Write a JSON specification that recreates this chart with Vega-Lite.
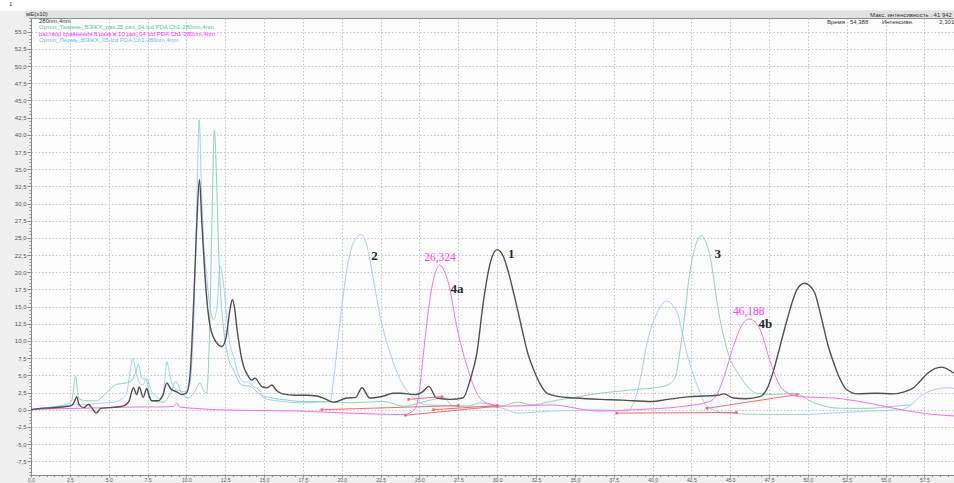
{
  "$schema": "https://vega.github.io/schema/vega-lite/v6.json",
  "width": 923,
  "height": 457,
  "autosize": {"type": "none"},
  "padding": {"left": 31, "top": 18, "right": 0, "bottom": 8},
  "background": "#efefef",
  "config": {
    "font": "Liberation Sans",
    "view": {"stroke": "#8c8c8c", "fill": "#fcfcfc"},
    "locale": {"number": {"decimal": ",", "thousands": " ", "grouping": [3], "currency": ["", ""], "minus": "-"}}
  },
  "datasets": {
    "traces": [
      {"s":"B","t":0,"v":0},{"s":"B","t":1.0,"v":0.3},{"s":"B","t":2.0,"v":0.5},{"s":"B","t":2.9,"v":0.8},{"s":"B","t":3.5,"v":0.7},{"s":"B","t":4.2,"v":0.9},{"s":"B","t":5.3,"v":1.1},{"s":"B","t":5.8,"v":1.5},{"s":"B","t":6.16,"v":2.5},{"s":"B","t":6.37,"v":5.4},{"s":"B","t":6.55,"v":7.5},{"s":"B","t":6.76,"v":5.4},{"s":"B","t":7.0,"v":3.9},{"s":"B","t":7.2,"v":3.6},{"s":"B","t":7.45,"v":4.6},{"s":"B","t":7.77,"v":2.6},{"s":"B","t":8.41,"v":1.6},{"s":"B","t":8.6,"v":4.0},{"s":"B","t":8.74,"v":7.0},{"s":"B","t":8.9,"v":5.5},{"s":"B","t":9.05,"v":3.9},{"s":"B","t":9.38,"v":2.9},{"s":"B","t":10.0,"v":2.6},{"s":"B","t":10.24,"v":3.9},{"s":"B","t":10.4,"v":9.0},{"s":"B","t":10.56,"v":19.4},{"s":"B","t":10.7,"v":33.0},{"s":"B","t":10.82,"v":42.2},{"s":"B","t":10.98,"v":31.5},{"s":"B","t":11.15,"v":23.0},{"s":"B","t":11.3,"v":19.4},{"s":"B","t":11.55,"v":14.6},{"s":"B","t":11.74,"v":13.1},{"s":"B","t":11.95,"v":14.6},{"s":"B","t":12.17,"v":20.9},{"s":"B","t":12.38,"v":18.4},{"s":"B","t":12.59,"v":13.6},{"s":"B","t":12.8,"v":9.5},{"s":"B","t":13.02,"v":7.8},{"s":"B","t":13.35,"v":5.1},{"s":"B","t":13.67,"v":4.1},{"s":"B","t":14.0,"v":4.0},{"s":"B","t":14.3,"v":3.4},{"s":"B","t":14.75,"v":2.7},{"s":"B","t":14.95,"v":1.7},{"s":"B","t":16.2,"v":1.2},{"s":"B","t":17.3,"v":1.0},{"s":"B","t":18.5,"v":1.1},{"s":"B","t":19.25,"v":1.2},{"s":"B","t":19.47,"v":4.4},{"s":"B","t":19.9,"v":13.1},{"s":"B","t":20.33,"v":20.4},{"s":"B","t":20.75,"v":24.3},{"s":"B","t":21.25,"v":25.5},{"s":"B","t":21.6,"v":24.0},{"s":"B","t":22.04,"v":18.9},{"s":"B","t":22.47,"v":13.6},{"s":"B","t":23.1,"v":8.3},{"s":"B","t":23.76,"v":4.4},{"s":"B","t":24.4,"v":2.2},{"s":"B","t":25.5,"v":0.7},{"s":"B","t":27.0,"v":0.6},{"s":"B","t":28.5,"v":0.5},{"s":"B","t":30.2,"v":0.3},{"s":"B","t":31.3,"v":-0.5},{"s":"B","t":33.4,"v":-0.2},{"s":"B","t":35.0,"v":-0.1},{"s":"B","t":36.6,"v":0},{"s":"B","t":38.4,"v":-0.2},{"s":"B","t":38.7,"v":0.6},{"s":"B","t":39.0,"v":2.4},{"s":"B","t":39.3,"v":5.5},{"s":"B","t":39.6,"v":9.2},{"s":"B","t":40.3,"v":14.1},{"s":"B","t":40.9,"v":15.8},{"s":"B","t":41.6,"v":14.1},{"s":"B","t":41.9,"v":11.3},{"s":"B","t":42.2,"v":8.3},{"s":"B","t":42.55,"v":5.6},{"s":"B","t":42.9,"v":3.4},{"s":"B","t":43.5,"v":0.5},{"s":"B","t":44.8,"v":-0.5},{"s":"B","t":47.4,"v":-0.7},{"s":"B","t":49.5,"v":-0.7},{"s":"B","t":51.5,"v":-0.5},{"s":"B","t":53.8,"v":-0.2},{"s":"B","t":56.0,"v":0},{"s":"B","t":56.6,"v":0.6},{"s":"B","t":57.2,"v":1.9},{"s":"B","t":58.1,"v":2.9},{"s":"B","t":59.0,"v":3.2},{"s":"B","t":59.4,"v":3.1},

      {"s":"T","t":0,"v":0},{"s":"T","t":1.0,"v":0.3},{"s":"T","t":2.1,"v":0.7},{"s":"T","t":2.6,"v":1.2},{"s":"T","t":2.88,"v":4.9},{"s":"T","t":3.0,"v":2.5},{"s":"T","t":3.15,"v":1.5},{"s":"T","t":3.6,"v":1.3},{"s":"T","t":4.2,"v":1.3},{"s":"T","t":4.87,"v":2.5},{"s":"T","t":5.5,"v":3.7},{"s":"T","t":6.16,"v":3.9},{"s":"T","t":6.5,"v":4.3},{"s":"T","t":6.75,"v":5.5},{"s":"T","t":6.91,"v":6.6},{"s":"T","t":7.12,"v":4.7},{"s":"T","t":7.45,"v":4.2},{"s":"T","t":7.6,"v":2.5},{"s":"T","t":7.77,"v":1.3},{"s":"T","t":8.5,"v":1.1},{"s":"T","t":9.0,"v":2.5},{"s":"T","t":9.31,"v":4.1},{"s":"T","t":9.7,"v":2.4},{"s":"T","t":10.12,"v":1.7},{"s":"T","t":10.5,"v":2.5},{"s":"T","t":10.88,"v":3.9},{"s":"T","t":11.1,"v":2.8},{"s":"T","t":11.3,"v":2.4},{"s":"T","t":11.5,"v":12.0},{"s":"T","t":11.65,"v":28.0},{"s":"T","t":11.8,"v":40.7},{"s":"T","t":11.95,"v":33.0},{"s":"T","t":12.06,"v":24.3},{"s":"T","t":12.2,"v":17.0},{"s":"T","t":12.38,"v":12.1},{"s":"T","t":12.7,"v":7.5},{"s":"T","t":13.03,"v":5.8},{"s":"T","t":13.57,"v":3.6},{"s":"T","t":14.1,"v":3.4},{"s":"T","t":14.75,"v":2.2},{"s":"T","t":15.5,"v":1.7},{"s":"T","t":16.5,"v":1.4},{"s":"T","t":17.3,"v":1.2},{"s":"T","t":19.0,"v":1.2},{"s":"T","t":20.5,"v":1.0},{"s":"T","t":22.7,"v":1.2},{"s":"T","t":24.0,"v":0.5},{"s":"T","t":25.0,"v":1.0},{"s":"T","t":26.55,"v":1.7},{"s":"T","t":27.2,"v":0.5},{"s":"T","t":28.1,"v":0.5},{"s":"T","t":28.9,"v":1.0},{"s":"T","t":30.2,"v":0.5},{"s":"T","t":31.3,"v":1.1},{"s":"T","t":32.3,"v":0.7},{"s":"T","t":33.4,"v":1.2},{"s":"T","t":35.0,"v":1.8},{"s":"T","t":36.6,"v":2.4},{"s":"T","t":38.8,"v":2.9},{"s":"T","t":40.7,"v":3.4},{"s":"T","t":41.4,"v":4.4},{"s":"T","t":41.9,"v":10.7},{"s":"T","t":42.43,"v":20.4},{"s":"T","t":43.14,"v":25.3},{"s":"T","t":43.7,"v":22.3},{"s":"T","t":44.26,"v":14.1},{"s":"T","t":44.8,"v":8.7},{"s":"T","t":45.65,"v":4.8},{"s":"T","t":46.7,"v":2.4},{"s":"T","t":47.8,"v":2.2},{"s":"T","t":49.1,"v":2.4},{"s":"T","t":50.4,"v":1.0},{"s":"T","t":52.1,"v":0.2},{"s":"T","t":53.8,"v":0.2},{"s":"T","t":55.5,"v":0.5},{"s":"T","t":56.6,"v":0.7},

      {"s":"M","t":0,"v":0},{"s":"M","t":1.0,"v":0.1},{"s":"M","t":3.0,"v":0.2},{"s":"M","t":5.0,"v":0.3},{"s":"M","t":7.0,"v":0.4},{"s":"M","t":8.5,"v":0.4},{"s":"M","t":9.2,"v":0.5},{"s":"M","t":9.38,"v":1.0},{"s":"M","t":9.55,"v":0.4},{"s":"M","t":10.5,"v":0.2},{"s":"M","t":12.0,"v":0},{"s":"M","t":14.0,"v":-0.1},{"s":"M","t":17.3,"v":-0.2},{"s":"M","t":20.5,"v":-0.5},{"s":"M","t":24.0,"v":-0.7},{"s":"M","t":24.5,"v":-0.3},{"s":"M","t":24.8,"v":0.5},{"s":"M","t":25.0,"v":2.8},{"s":"M","t":25.26,"v":8.3},{"s":"M","t":25.7,"v":16.5},{"s":"M","t":26.0,"v":19.8},{"s":"M","t":26.324,"v":21.0},{"s":"M","t":26.6,"v":20.2},{"s":"M","t":26.87,"v":18.4},{"s":"M","t":27.4,"v":12.1},{"s":"M","t":28.06,"v":6.3},{"s":"M","t":28.7,"v":2.4},{"s":"M","t":29.3,"v":1.0},{"s":"M","t":30.6,"v":0.5},{"s":"M","t":33.4,"v":0.7},{"s":"M","t":36.6,"v":-0.2},{"s":"M","t":38.8,"v":0},{"s":"M","t":42.0,"v":0.5},{"s":"M","t":43.7,"v":1.2},{"s":"M","t":44.2,"v":2.5},{"s":"M","t":44.6,"v":4.8},{"s":"M","t":45.2,"v":9.2},{"s":"M","t":45.7,"v":12.1},{"s":"M","t":46.188,"v":13.2},{"s":"M","t":46.6,"v":12.8},{"s":"M","t":46.94,"v":11.6},{"s":"M","t":47.6,"v":6.8},{"s":"M","t":48.4,"v":2.9},{"s":"M","t":49.5,"v":1.9},{"s":"M","t":51.7,"v":1.7},{"s":"M","t":53.8,"v":1.0},{"s":"M","t":56.0,"v":0},{"s":"M","t":58.1,"v":-0.7},{"s":"M","t":59.4,"v":-0.9},

      {"s":"K","t":0,"v":0},{"s":"K","t":0.6,"v":0.2},{"s":"K","t":1.2,"v":0.25},{"s":"K","t":2.0,"v":0.4},{"s":"K","t":2.6,"v":0.6},{"s":"K","t":2.8,"v":1.2},{"s":"K","t":2.94,"v":1.9},{"s":"K","t":3.1,"v":0.7},{"s":"K","t":3.4,"v":0.3},{"s":"K","t":3.7,"v":0.8},{"s":"K","t":3.9,"v":0.3},{"s":"K","t":4.2,"v":-0.5},{"s":"K","t":4.5,"v":0.2},{"s":"K","t":5.0,"v":0.3},{"s":"K","t":5.5,"v":0.4},{"s":"K","t":6.0,"v":0.6},{"s":"K","t":6.3,"v":1.2},{"s":"K","t":6.59,"v":3.2},{"s":"K","t":6.8,"v":2.2},{"s":"K","t":6.97,"v":3.3},{"s":"K","t":7.22,"v":1.8},{"s":"K","t":7.45,"v":3.1},{"s":"K","t":7.6,"v":2.0},{"s":"K","t":7.77,"v":1.3},{"s":"K","t":8.2,"v":1.3},{"s":"K","t":8.5,"v":2.2},{"s":"K","t":8.74,"v":3.9},{"s":"K","t":9.0,"v":3.0},{"s":"K","t":9.38,"v":2.6},{"s":"K","t":9.7,"v":2.2},{"s":"K","t":10.0,"v":2.4},{"s":"K","t":10.23,"v":4.9},{"s":"K","t":10.45,"v":14.6},{"s":"K","t":10.65,"v":26.0},{"s":"K","t":10.84,"v":33.5},{"s":"K","t":11.0,"v":27.0},{"s":"K","t":11.2,"v":19.4},{"s":"K","t":11.53,"v":12.1},{"s":"K","t":11.96,"v":9.7},{"s":"K","t":12.28,"v":9.2},{"s":"K","t":12.56,"v":10.6},{"s":"K","t":12.8,"v":14.5},{"s":"K","t":12.96,"v":16.0},{"s":"K","t":13.1,"v":14.8},{"s":"K","t":13.24,"v":12.1},{"s":"K","t":13.57,"v":7.3},{"s":"K","t":14.0,"v":4.8},{"s":"K","t":14.2,"v":4.3},{"s":"K","t":14.42,"v":4.6},{"s":"K","t":14.7,"v":3.8},{"s":"K","t":14.9,"v":3.3},{"s":"K","t":15.2,"v":3.2},{"s":"K","t":15.5,"v":3.6},{"s":"K","t":15.8,"v":2.8},{"s":"K","t":16.2,"v":2.3},{"s":"K","t":17.0,"v":2.1},{"s":"K","t":17.8,"v":2.1},{"s":"K","t":18.4,"v":2.0},{"s":"K","t":19.0,"v":1.5},{"s":"K","t":19.47,"v":1.1},{"s":"K","t":20.3,"v":1.7},{"s":"K","t":20.9,"v":1.8},{"s":"K","t":21.3,"v":3.2},{"s":"K","t":21.8,"v":1.7},{"s":"K","t":22.7,"v":2.0},{"s":"K","t":23.3,"v":2.4},{"s":"K","t":23.8,"v":2.4},{"s":"K","t":24.7,"v":2.2},{"s":"K","t":25.2,"v":2.6},{"s":"K","t":25.6,"v":3.4},{"s":"K","t":26.1,"v":1.7},{"s":"K","t":27.0,"v":1.5},{"s":"K","t":27.8,"v":1.7},{"s":"K","t":28.27,"v":4.4},{"s":"K","t":28.7,"v":8.3},{"s":"K","t":29.1,"v":15.5},{"s":"K","t":29.56,"v":21.4},{"s":"K","t":30.0,"v":23.3},{"s":"K","t":30.4,"v":22.3},{"s":"K","t":30.7,"v":20.2},{"s":"K","t":31.06,"v":17.0},{"s":"K","t":31.4,"v":13.7},{"s":"K","t":31.7,"v":10.7},{"s":"K","t":32.0,"v":8.0},{"s":"K","t":32.35,"v":5.8},{"s":"K","t":32.8,"v":3.6},{"s":"K","t":33.2,"v":2.4},{"s":"K","t":34.0,"v":1.9},{"s":"K","t":35.0,"v":1.7},{"s":"K","t":36.6,"v":1.5},{"s":"K","t":38.0,"v":1.4},{"s":"K","t":39.9,"v":1.2},{"s":"K","t":41.0,"v":1.5},{"s":"K","t":42.4,"v":1.9},{"s":"K","t":44.2,"v":2.1},{"s":"K","t":44.6,"v":2.3},{"s":"K","t":45.2,"v":1.7},{"s":"K","t":46.0,"v":1.6},{"s":"K","t":46.9,"v":1.9},{"s":"K","t":47.4,"v":3.2},{"s":"K","t":47.8,"v":5.8},{"s":"K","t":48.2,"v":9.2},{"s":"K","t":48.66,"v":13.1},{"s":"K","t":49.3,"v":17.5},{"s":"K","t":49.77,"v":18.4},{"s":"K","t":50.4,"v":17.2},{"s":"K","t":50.7,"v":14.9},{"s":"K","t":51.0,"v":12.1},{"s":"K","t":51.3,"v":9.3},{"s":"K","t":51.66,"v":6.8},{"s":"K","t":52.0,"v":4.8},{"s":"K","t":52.5,"v":2.9},{"s":"K","t":53.2,"v":2.3},{"s":"K","t":54.4,"v":2.4},{"s":"K","t":55.5,"v":2.3},{"s":"K","t":56.2,"v":2.6},{"s":"K","t":56.8,"v":3.2},{"s":"K","t":57.2,"v":4.1},{"s":"K","t":57.7,"v":5.3},{"s":"K","t":58.6,"v":6.2},{"s":"K","t":59.4,"v":5.3}
    ],
    "baselines": [
      {"t1":18.72,"v1":0.0,"t2":27.5,"v2":0.6},
      {"t1":24.3,"v1":1.5,"t2":26.45,"v2":1.9},
      {"t1":25.9,"v1":0.0,"t2":30.0,"v2":0.6},
      {"t1":24.1,"v1":-0.8,"t2":30.0,"v2":0.5},
      {"t1":37.7,"v1":-0.5,"t2":45.4,"v2":-0.4},
      {"t1":43.5,"v1":0.2,"t2":49.3,"v2":2.2}
    ],
    "peaks": [
      {"name":"2","t":22.1,"v":22.3},
      {"name":"1","t":30.9,"v":22.6},
      {"name":"3","t":44.2,"v":22.6},
      {"name":"4a","t":27.41,"v":17.6},
      {"name":"4b","t":47.26,"v":12.5}
    ],
    "retention": [
      {"rt":26.324,"h":21.0},
      {"rt":46.188,"h":13.2}
    ],
    "header": [
      {"label":"1","t":-1.42,"v":59.1},
      {"label":"мЕ(x10)","t":-0.32,"v":57.6},
      {"label":"Макс. интенсивность : 41 942","t":54.0,"v":57.48},
      {"label":"Время","t":51.22,"v":56.36},
      {"label":"54,388","t":52.7,"v":56.36},
      {"label":"Интенсивн.","t":54.76,"v":56.36},
      {"label":"2,301","t":58.45,"v":56.36}
    ]
  },
  "layer": [
    {
      "data": {"values": [{}]},
      "mark": {"type": "rect", "color": "#ffffff", "clip": false},
      "encoding": {
        "x": {"datum": -4, "type": "quantitative", "title": null},
        "x2": {"datum": 61},
        "y": {"datum": 58.1, "type": "quantitative", "title": null},
        "y2": {"datum": 62}
      }
    },
    {
      "data": {"values": [{}]},
      "mark": {"type": "rect", "color": "#e2e2e2", "clip": false},
      "encoding": {
        "x": {"datum": -0.4, "type": "quantitative", "title": null},
        "x2": {"datum": 61},
        "y": {"datum": 57.0, "type": "quantitative", "title": null},
        "y2": {"datum": 58.1}
      }
    },
    {
      "data": {"name": "traces"},
      "mark": {"type": "line", "interpolate": "monotone"},
      "encoding": {
        "x": {
          "field": "t", "type": "quantitative", "title": null,
          "scale": {"domain": [0, 59.4], "nice": false, "zero": false},
          "axis": {
            "tickCount": 119, "format": ".1f",
            "labelExpr": "datum.value % 2.5 === 0 ? datum.label : ''",
            "labelOverlap": false, "labelFlush": false, "labelBound": false,
            "labelFontSize": 5, "labelColor": "#555555", "labelPadding": 0,
            "domainColor": "#8a8a8a", "tickColor": "#8a8a8a",
            "tickSize": {"condition": {"test": "datum.value % 2.5 === 0", "value": 2}, "value": 1.5},
            "grid": true, "gridColor": "#c4c4c4", "gridDash": [1.5, 2],
            "gridOpacity": {"condition": {"test": "datum.value % 2.5 === 0", "value": 1}, "value": 0}
          }
        },
        "y": {
          "field": "v", "type": "quantitative", "title": null,
          "scale": {"domain": [-9.5, 57.0], "nice": false, "zero": false},
          "axis": {
            "tickCount": 133, "format": ".1f",
            "labelExpr": "datum.value % 2.5 === 0 ? datum.label : ''",
            "labelOverlap": false, "labelBound": false, "labelFlush": false,
            "labelFontSize": 6, "labelColor": "#555555", "labelPadding": 1,
            "domainColor": "#8a8a8a", "tickColor": "#8a8a8a",
            "tickSize": {"condition": {"test": "datum.value % 2.5 === 0", "value": 4}, "value": 2},
            "grid": true, "gridColor": "#c4c4c4", "gridDash": [1.5, 2],
            "gridOpacity": {"condition": {"test": "datum.value % 2.5 === 0", "value": 1}, "value": 0}
          }
        },
        "color": {
          "field": "s", "type": "nominal",
          "scale": {"domain": ["K", "T", "M", "B"], "range": ["#4f4f4f", "#8fd2c0", "#f46cf4", "#a6cff4"]},
          "legend": {
            "title": null, "orient": "none", "legendX": 2, "legendY": 0,
            "padding": 0, "offset": 0,
            "symbolSize": 0, "symbolOpacity": 0, "symbolStrokeWidth": 0, "labelOffset": 0,
            "rowPadding": 0.4, "labelFontSize": 6, "labelLimit": 400,
            "labelExpr": "datum.value === 'K' ? '280nm,4nm' : datum.value === 'T' ? 'Ортоп_Тюмень_ВЭЖХ_раз 25 раз_04.lcd PDA Ch1-280nm,4nm' : datum.value === 'M' ? 'раствор сравнения 8 разв в 10 раз_04.lcd PDA Ch1-280nm,4nm' : 'Ортоп_Пермь_ВЭЖХ_05.lcd PDA Ch1-280nm,4nm'",
            "labelColor": {"expr": "datum.value === 'K' ? '#333333' : datum.value === 'T' ? '#5cc2aa' : datum.value === 'M' ? '#ff2cff' : '#72b4f0'"}
          }
        },
        "size": {"condition": {"test": "datum.s === 'K'", "value": 1.4}, "value": 1}
      }
    },
    {
      "data": {"name": "baselines"},
      "mark": {"type": "rule", "color": "#f06c6c", "strokeWidth": 1},
      "encoding": {
        "x": {"field": "t1", "type": "quantitative", "title": null},
        "x2": {"field": "t2"},
        "y": {"field": "v1", "type": "quantitative", "title": null},
        "y2": {"field": "v2"}
      }
    },
    {
      "data": {"name": "baselines"},
      "mark": {"type": "point", "shape": "square", "filled": true, "size": 7, "color": "#f06c6c", "opacity": 1},
      "encoding": {
        "x": {"field": "t1", "type": "quantitative", "title": null},
        "y": {"field": "v1", "type": "quantitative", "title": null}
      }
    },
    {
      "data": {"name": "baselines"},
      "mark": {"type": "point", "shape": "square", "filled": true, "size": 7, "color": "#f06c6c", "opacity": 1},
      "encoding": {
        "x": {"field": "t2", "type": "quantitative", "title": null},
        "y": {"field": "v2", "type": "quantitative", "title": null}
      }
    },
    {
      "data": {"name": "peaks"},
      "mark": {"type": "text", "font": "Liberation Serif", "fontWeight": "bold", "fontSize": 13, "color": "#1d2b36", "align": "center", "baseline": "middle"},
      "encoding": {
        "x": {"field": "t", "type": "quantitative", "title": null},
        "y": {"field": "v", "type": "quantitative", "title": null},
        "text": {"field": "name"}
      }
    },
    {
      "data": {"name": "retention"},
      "mark": {"type": "text", "font": "Liberation Serif", "fontSize": 11.5, "color": "#ff3cff", "align": "center", "baseline": "bottom", "dy": -2},
      "encoding": {
        "x": {"field": "rt", "type": "quantitative", "title": null},
        "y": {"field": "h", "type": "quantitative", "title": null},
        "text": {"field": "rt", "type": "quantitative", "format": ".3f"}
      }
    },
    {
      "data": {"name": "header"},
      "mark": {"type": "text", "fontSize": 6, "color": "#333333", "align": "left", "baseline": "middle"},
      "encoding": {
        "x": {"field": "t", "type": "quantitative", "title": null},
        "y": {"field": "v", "type": "quantitative", "title": null},
        "text": {"field": "label"}
      }
    }
  ]
}
